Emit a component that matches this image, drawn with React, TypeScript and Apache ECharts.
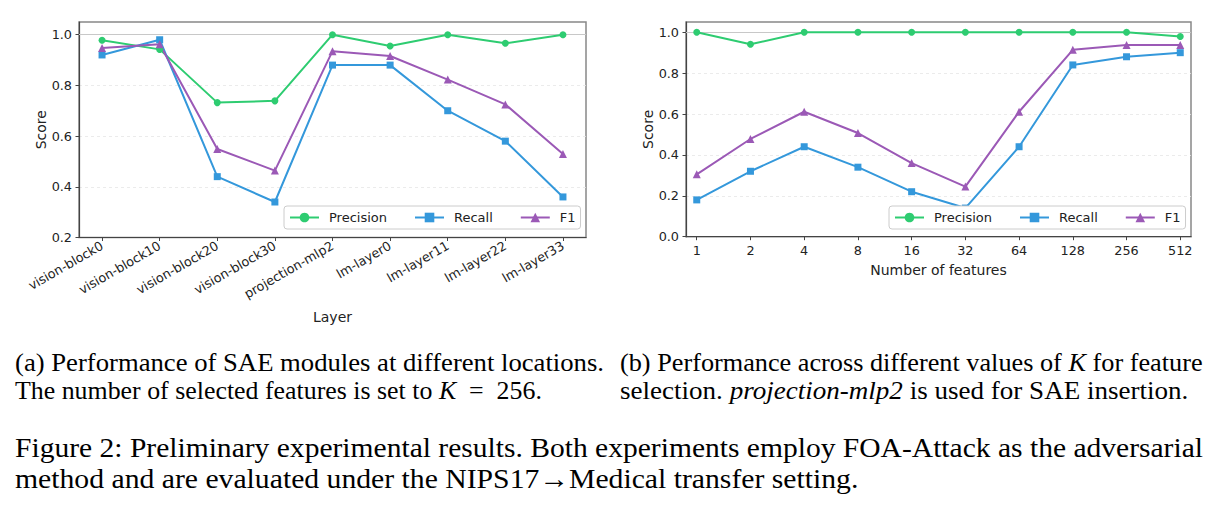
import React, { useEffect, useRef } from 'react';
import * as echarts from 'echarts';

const layers = ['vision-block0', 'vision-block10', 'vision-block20', 'vision-block30', 'projection-mlp2', 'lm-layer0', 'lm-layer11', 'lm-layer22', 'lm-layer33'];
const layerPrecision = [0.978, 0.942, 0.732, 0.739, 1.0, 0.955, 1.0, 0.966, 1.0];
const layerRecall = [0.92, 0.98, 0.44, 0.34, 0.88, 0.88, 0.70, 0.58, 0.36];
const layerF1 = [0.947, 0.962, 0.549, 0.464, 0.935, 0.916, 0.823, 0.725, 0.529];

const kValues = ['1', '2', '4', '8', '16', '32', '64', '128', '256', '512'];
const kPrecision = [1.0, 0.941, 1.0, 1.0, 1.0, 1.0, 1.0, 1.0, 1.0, 0.979];
const kRecall = [0.18, 0.32, 0.44, 0.34, 0.22, 0.14, 0.44, 0.84, 0.88, 0.90];
const kF1 = [0.305, 0.478, 0.611, 0.507, 0.36, 0.245, 0.611, 0.914, 0.937, 0.937];

const leftYTicks = [0.2, 0.4, 0.6, 0.8, 1.0];
const rightYTicks = [0.0, 0.2, 0.4, 0.6, 0.8, 1.0];
const referenceLine = 1.0;

const seriesNames = ['Precision', 'Recall', 'F1'];
const colors = ['#2ecc71', '#3498db', '#9b59b6'];
const symbols = ['circle', 'rect', 'triangle'];
const symbolSizes = [7, 7, 8];

const SANS = 'DejaVu Sans';
const SERIF = 'Liberation Serif';

function App() {
  const ref = useRef<HTMLDivElement>(null);
  useEffect(() => {
    if (!ref.current) return;
    const chart = echarts.init(ref.current, undefined, { renderer: 'svg' });

    const makeSeries = (gi: number, values: number[][]) =>
      values.map((vals, si) => ({
        type: 'line',
        name: seriesNames[si],
        xAxisIndex: gi,
        yAxisIndex: gi,
        data: vals.map((v, i) => [i, v]),
        symbol: symbols[si],
        symbolSize: symbolSizes[si],
        showSymbol: true,
        lineStyle: { color: colors[si], width: 2 },
        itemStyle: { color: colors[si] },
        emphasis: { disabled: true },
        z: 3,
        ...(si === 0
          ? {
              markLine: {
                silent: true,
                symbol: 'none',
                z: 1,
                label: { show: false },
                lineStyle: { color: '#c8c8c8', type: 'solid', width: 1 },
                data: [{ yAxis: referenceLine }],
              },
            }
          : {}),
      }));

    const tickLabel = { fontFamily: SANS, fontSize: 12.8, color: '#222' };
    const nameStyle = { fontFamily: SANS, fontSize: 14, color: '#222' };

    const xAxis = (gi: number, cats: string[], pad: number, name: string, gap: number, rotate: number) => {
      const idx = cats.map((_, i) => i);
      return {
        type: 'value',
        gridIndex: gi,
        min: -pad,
        max: cats.length - 1 + pad,
        name,
        nameLocation: 'middle',
        nameGap: gap,
        nameTextStyle: nameStyle,
        axisLine: { show: true, onZero: false, lineStyle: { color: '#444', width: 1.2 } },
        axisTick: { show: true, length: 3.5, customValues: idx, lineStyle: { color: '#444', width: 1 } },
        axisLabel: {
          ...tickLabel,
          customValues: idx,
          rotate,
          margin: 7,
          formatter: (v: number) => cats[Math.round(v)] ?? '',
        },
        splitLine: { show: false },
      };
    };

    const yAxis = (gi: number, ticks: number[], min: number, max: number) => ({
      type: 'value',
      gridIndex: gi,
      min,
      max,
      name: 'Score',
      nameLocation: 'middle',
      nameGap: 31,
      nameRotate: 90,
      nameTextStyle: nameStyle,
      axisLine: { show: true, onZero: false, lineStyle: { color: '#444', width: 1.2 } },
      axisTick: { show: true, length: 3.5, customValues: ticks, lineStyle: { color: '#444', width: 1 } },
      axisLabel: {
        ...tickLabel,
        customValues: ticks,
        margin: 7,
        formatter: (v: number) => v.toFixed(1),
      },
      splitLine: { show: true, lineStyle: { color: '#e6e6e6', type: [3, 3], width: 0.8 } },
    });

    const legendBase = {
      data: seriesNames,
      top: 206,
      orient: 'horizontal',
      itemWidth: 29,
      itemHeight: 12,
      itemGap: 27,
      padding: [5, 5, 5, 5],
      backgroundColor: '#fff',
      borderColor: '#cccccc',
      borderWidth: 1,
      borderRadius: 3,
      selectedMode: false,
      textStyle: { fontFamily: SANS, fontSize: 13, color: '#222', padding: [0, 0, 0, 5] },
    };

    const rich = (size: number) => ({
      r: { fontFamily: SERIF, fontSize: size, fill: '#000' },
      i: { fontFamily: SERIF, fontSize: size, fontStyle: 'italic', fill: '#000' },
    });

    const cap = (x: number, y: number, text: string, size: number, sx: number) => ({
      type: 'text',
      x,
      y,
      scaleX: sx,
      silent: true,
      style: {
        text,
        rich: rich(size),
        verticalAlign: 'middle',
        align: 'left',
        fontFamily: SERIF,
        fontSize: size,
        fill: '#000',
      },
    });

    chart.setOption({
      animation: false,
      backgroundColor: '#fff',
      grid: [
        { left: 79, top: 22, width: 507, height: 215.5, show: true, borderColor: '#888', borderWidth: 1.5, backgroundColor: 'transparent' },
        { left: 686, top: 22, width: 505, height: 214.7, show: true, borderColor: '#888', borderWidth: 1.5, backgroundColor: 'transparent' },
      ],
      xAxis: [
        xAxis(0, layers, 0.4, 'Layer', 72, 30),
        xAxis(1, kValues, 0.2, 'Number of features', 26, 0),
      ],
      yAxis: [yAxis(0, leftYTicks, 0.2, 1.05), yAxis(1, rightYTicks, 0, 1.05)],
      legend: [
        { ...legendBase, left: 284 },
        { ...legendBase, left: 889 },
      ],
      series: [
        ...makeSeries(0, [layerPrecision, layerRecall, layerF1]),
        ...makeSeries(1, [kPrecision, kRecall, kF1]),
      ],
      graphic: [
        cap(15, 363, '{r|(a) Performance of SAE modules at different locations.}', 25, 1.067),
        cap(15, 391, '{r|The number of selected features is set to }{i|K}{r|  =  256.}', 25, 1.035),
        cap(620, 363, '{r|(b) Performance across different values of }{i|K}{r| for feature}', 25, 1.05),
        cap(620, 391, '{r|selection. }{i|projection-mlp2}{r| is used for SAE insertion.}', 25, 1.082),
        cap(15, 448, '{r|Figure 2: Preliminary experimental results. Both experiments employ FOA-Attack as the adversarial}', 27.5, 1.075),
        cap(15, 478, '{r|method and are evaluated under the NIPS17\u2192Medical transfer setting.}', 27.5, 1.08),
      ],
    });
    return () => chart.dispose();
  }, []);
  return <div ref={ref} style={{ position: 'fixed', left: 0, top: 0, width: 1218, height: 510, background: '#fff' }} />;
}

export default App;
